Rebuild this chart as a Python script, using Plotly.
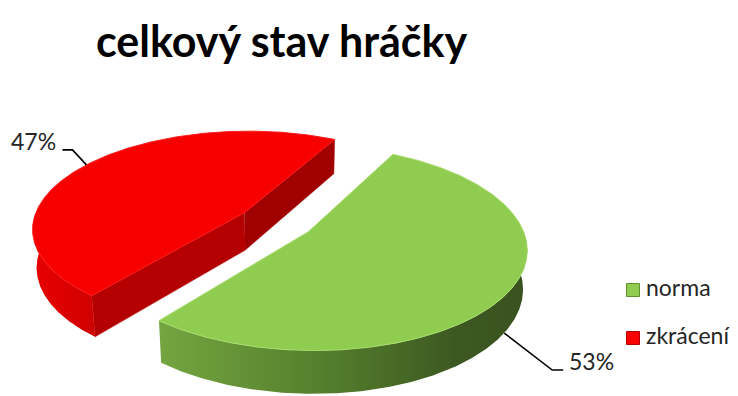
import numpy as np
import plotly.graph_objects as go

# --- data -----------------------------------------------------------------
labels = ["norma", "zkrácení"]
values = [53, 47]
title_text = "celkový stav hráčky"

# --- styling ----------------------------------------------------------------
top_colors = {"norma": "#8fcc50", "zkrácení": "#f60000"}
top_edge = {"norma": "#a6dc6c", "zkrácení": "#ff1a1a"}
side_scales = {
    "norma": [[0, "#74a540"], [0.45, "#547e2c"], [0.8, "#3d5922"], [1, "#39511f"]],
    "zkrácení": [[0, "#e80000"], [1, "#cf0000"]],
}
cut_colors = {"norma": ["#4a6e26", "#4a6e26"], "zkrácení": ["#b40000", "#a10000"]}
legend_colors = {"norma": ("#8fcc50", "#5f8f2f"), "zkrácení": ("#ff0000", "#b00000")}
# leader geometry (elbow offset, tail length) per slice, in pixels
leader_style = {"norma": ((48, 37), 11), "zkrácení": ((-14, -15), -10)}

W, H = 738, 396
CX, CY = 276, 222          # projected pie centre
FOCAL = 1206.0
DIST = 5.69                # camera distance in pie radii
TILT = np.radians(27.2)    # camera elevation
THICK = 0.205              # pie thickness in radii
EXPLODE = 0.18             # slice explosion in radii
START = 62.0               # angle of the first slice edge (deg, ccw from +x)

S, C = np.sin(TILT), np.cos(TILT)


def proj(x, z, yup):
    """Perspective projection of a pie-space point (x right, z toward viewer, y up)."""
    x = np.asarray(x, float)
    z = np.asarray(z, float)
    vy = yup - DIST * S
    vz = z - DIST * C
    depth = -(vy * S + vz * C)
    up = vy * C - vz * S
    return CX + FOCAL * x / depth, CY - FOCAL * up / depth


def rim(t_deg, off, yup):
    t = np.radians(t_deg)
    return proj(off[0] + np.cos(t), off[1] - np.sin(t), yup)


def visible(normal_deg, point):
    a = np.radians(normal_deg)
    n = np.array([np.cos(a), 0.0, -np.sin(a)])
    cam = np.array([0.0, DIST * S, DIST * C])
    return float(np.dot(cam - point, n)) > 0


fig = go.Figure()
total = float(sum(values))

slices = []
t = START
for lab, val in zip(labels, values):
    span = 360.0 * val / total
    t0, t1 = t, t - span
    mid = 0.5 * (t0 + t1)
    m = np.radians(mid)
    off = (EXPLODE * np.cos(m), -EXPLODE * np.sin(m))
    slices.append(dict(label=lab, value=val, t0=t0, t1=t1, mid=mid, off=off))
    t = t1

# back slices first
order = sorted(slices, key=lambda s: -np.sin(np.radians(s["mid"])))


def add_poly(xs, ys, **kw):
    fig.add_trace(go.Scatter(x=list(xs), y=list(ys), mode="lines", fill="toself",
                             hoverinfo="skip", showlegend=False, **kw))


for s in order:
    lab, off = s["label"], s["off"]
    cx_top, cy_top = proj(off[0], off[1], 0.0)
    cx_bot, cy_bot = proj(off[0], off[1], -THICK)

    # flat cut faces
    for k, (edge, ndir) in enumerate(((s["t0"], s["t0"] + 90), (s["t1"], s["t1"] - 90))):
        e = np.radians(edge)
        pt = np.array([off[0] + 0.5 * np.cos(e), -THICK / 2, off[1] - 0.5 * np.sin(e)])
        if not visible(ndir, pt):
            continue
        ex_t, ey_t = rim(edge, off, 0.0)
        ex_b, ey_b = rim(edge, off, -THICK)
        col = cut_colors[lab][k]
        add_poly([cx_top, ex_t, ex_b, cx_bot], [cy_top, ey_t, ey_b, cy_bot],
                 fillcolor=col, line=dict(color=col, width=0.5))

    # outer curved side (front-facing half)
    ts = np.linspace(s["t0"], s["t1"], 400)
    front = np.sin(np.radians(ts)) < 0
    runs, cur = [], []
    for tv, fv in zip(ts, front):
        if fv:
            cur.append(tv)
        elif cur:
            runs.append(cur)
            cur = []
    if cur:
        runs.append(cur)
    for run in runs:
        run = np.array(run)
        xt, yt = rim(run, off, 0.0)
        xb, yb = rim(run[::-1], off, -THICK)
        add_poly(np.concatenate([xt, xb]), np.concatenate([yt, yb]),
                 fillgradient=dict(type="horizontal", colorscale=side_scales[lab]),
                 line=dict(width=0))

    # top face
    xr, yr = rim(ts, off, 0.0)
    add_poly(np.concatenate([[cx_top], xr, [cx_top]]),
             np.concatenate([[cy_top], yr, [cy_top]]),
             fillcolor=top_colors[lab], line=dict(color=top_edge[lab], width=1))

# percentage labels with leader lines
annotations = []
for s in slices:
    lab = s["label"]
    pct = f"{round(100 * s['value'] / total)}%"
    back = np.sin(np.radians(s["mid"])) > 0
    ax, ay = rim(s["mid"], s["off"], 0.0 if back else -THICK)
    (dx, dy), tail = leader_style[lab]
    ex, ey = ax + dx, ay + dy
    tx = ex + tail
    fig.add_trace(go.Scatter(x=[ax, ex, tx], y=[ay, ey, ey], mode="lines",
                             line=dict(color="#000000", width=1.6),
                             hoverinfo="skip", showlegend=False))
    right = tail > 0
    annotations.append(dict(x=tx + (4 if right else -4), y=ey - 9, text=pct,
                            xanchor="left" if right else "right", yanchor="middle",
                            showarrow=False,
                            font=dict(family="Lato", size=23, color="#262626")))

# legend
leg_x, leg_y0, leg_dy = 633, 290, 48
for i, lab in enumerate(labels):
    fc, lc = legend_colors[lab]
    fig.add_trace(go.Scatter(x=[leg_x], y=[leg_y0 + i * leg_dy], mode="markers",
                             marker=dict(symbol="square", size=13, color=fc,
                                         line=dict(color=lc, width=1)),
                             hoverinfo="skip", showlegend=False))
    annotations.append(dict(x=leg_x + 11, y=leg_y0 + i * leg_dy - 3, text=lab,
                            xanchor="left", yanchor="middle", showarrow=False,
                            font=dict(family="Lato", size=23, color="#262626")))

annotations.append(dict(x=281, y=40, text=f"<b>{title_text}</b>", xanchor="center",
                        yanchor="middle", showarrow=False,
                        font=dict(family="Lato", size=43, color="#000000")))

fig.update_layout(
    width=W, height=H, margin=dict(l=0, r=0, t=0, b=0),
    paper_bgcolor="white", plot_bgcolor="white",
    xaxis=dict(range=[0, W], visible=False, fixedrange=True),
    yaxis=dict(range=[H, 0], visible=False, fixedrange=True),
    annotations=annotations,
    showlegend=False,
)

fig.write_html("out.html")
